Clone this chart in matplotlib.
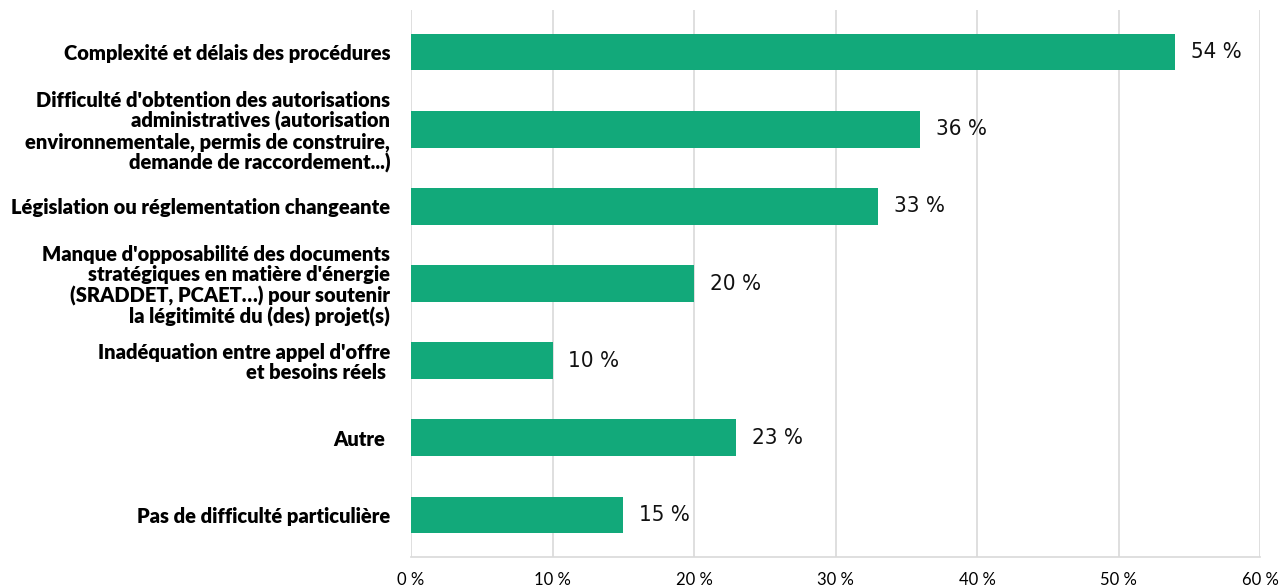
import matplotlib.pyplot as plt
from matplotlib.ticker import MultipleLocator, FuncFormatter

# catégories (de haut en bas) et pourcentages
categories = [
    "Complexité et délais des procédures",
    "Difficulté d'obtention des autorisations\nadministratives (autorisation\nenvironnementale, permis de construire,\ndemande de raccordement...)",
    "Législation ou réglementation changeante",
    "Manque d'opposabilité des documents\nstratégiques en matière d'énergie\n(SRADDET, PCAET…) pour soutenir\nla légitimité du (des) projet(s)",
    "Inadéquation entre appel d'offre\net besoins réels ",
    "Autre ",
    "Pas de difficulté particulière",
]
values = [54, 36, 33, 20, 10, 23, 15]

bar_color = "#12a97a"

fig = plt.figure(figsize=(12.85, 5.88), dpi=100)
ax = fig.add_axes([411 / 1285, 1 - 557 / 588, 849 / 1285, 547 / 588])

pos = list(range(len(categories)))
ax.barh(pos, values, height=0.47, color=bar_color, zorder=3)
ax.set_ylim(len(categories) - 0.45, -0.55)
ax.set_xlim(0, 60)

for p, v in zip(pos, values):
    ax.text(v + 1.1, p, f"{v} %", va="center", ha="left",
            fontsize=16, family="DejaVu Sans", fontstretch="condensed",
            color="#111111")

ax.set_yticks(pos)
ax.set_yticklabels(categories, fontsize=14.5, fontweight="heavy",
                   family="Lato", linespacing=1.08)
for lbl in ax.get_yticklabels():
    lbl.set_horizontalalignment("right")
    lbl.set_multialignment("right")
ax.tick_params(axis="y", length=0, pad=15)

ax.xaxis.set_major_locator(MultipleLocator(10))
ax.xaxis.set_major_formatter(FuncFormatter(lambda x, _: f"{int(x)} %"))
ax.tick_params(axis="x", length=0, pad=11, labelsize=12)
for lbl in ax.get_xticklabels():
    lbl.set_family("Lato")

ax.grid(axis="x", color="#d9d9d9", linewidth=1.2, zorder=0)
for side in ["top", "right", "left"]:
    ax.spines[side].set_visible(False)
ax.spines["bottom"].set_color("#d9d9d9")
ax.spines["bottom"].set_linewidth(1.2)

fig.savefig("out.png", dpi=100)
